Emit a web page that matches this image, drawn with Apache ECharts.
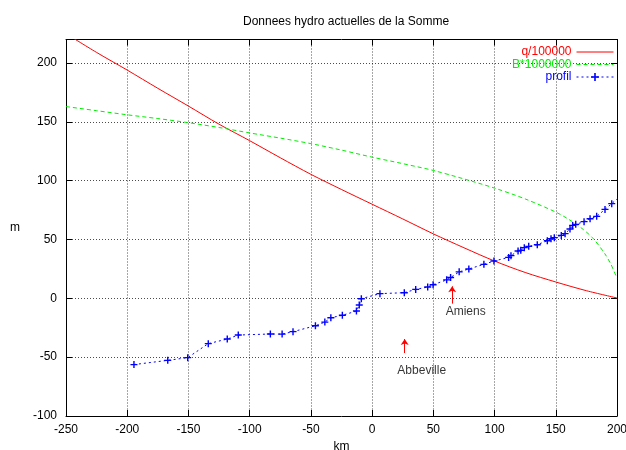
<!DOCTYPE html>
<html>
<head>
<meta charset="utf-8">
<script src="https://cdn.jsdelivr.net/npm/echarts@6/dist/echarts.min.js"></script>
<style>html,body{margin:0;padding:0;background:#fff}#c{width:626px;height:450px}</style>
</head>
<body>
<div id="c"></div>
<script>
var titleText = 'Donnees hydro actuelles de la Somme';
var xTicks = [-250, 200, 50];
var yTicks = [-100, 220, 50];

var qX = [-250, -225, -200, -175, -150, -125, -100, -75, -50, -25, 0, 25, 50, 75, 100, 125, 150, 175, 200];
var qY = [225, 209, 194, 178.5, 163.4, 148, 134, 119.5, 105.4, 92.5, 80, 67.5, 54.8, 43, 31.7, 22, 13.9, 6.5, 0.3];

var bX = [-250, -225, -200, -175, -150, -125, -100, -75, -50, -25, 0, 25, 50, 75, 100, 125, 150, 160, 170, 180, 190, 195, 200];
var bY = [163, 159.5, 156, 152.8, 149.3, 145.2, 140.6, 136.2, 131.5, 126, 120, 114.5, 108.7, 101.5, 93.7, 84.5, 73.3, 67.5, 60.5, 51.5, 38, 29, 17];

var pX = [-194.5, -166.9, -150.6, -133.8, -118.3, -109.3, -83.1, -73.5, -64.6, -46.3, -38.6, -33.7, -24.3, -12.8, -10.5, -8.8, 6.4, 26.3, 35.6, 45.4, 49.8, 60.9, 64.1, 71.1, 79.0, 91.3, 99.5, 111.5, 113.4, 119.2, 121.4, 124.3, 127.9, 134.9, 143.1, 146.1, 148.8, 154.5, 157.6, 161.6, 163.8, 166.3, 173.1, 178.0, 183.4, 190.2, 195.7, 200.3];
var pY = [-56.3, -52.7, -50.4, -38.5, -34.6, -31.2, -30.3, -30.4, -28.3, -23.3, -20.2, -16.5, -14.4, -10.8, -5.7, -0.3, 4.0, 4.8, 7.6, 9.6, 11.6, 15.7, 17.7, 22.5, 25.0, 28.9, 31.7, 34.8, 36.3, 40.2, 40.8, 43.1, 44.2, 45.6, 49.0, 50.7, 51.6, 53.5, 55.0, 58.9, 62.0, 62.9, 65.2, 67.7, 69.7, 75.6, 80.5, 84.7];

var towns = ['Amiens', 'Abbeville'];
var townArrowX = [65.4, 26.6];
var townArrowY0 = [-4.5, -46.5];
var townArrowY1 = [10.2, -34.6];
var townLabelX = [76.4, 40.5];
var townLabelY = [-11, -61.2];

var seriesNames = ['q/100000', 'B*1000000', 'profil'];

function zip(a, b) { return a.map(function (v, i) { return [v, b[i]]; }); }

var FONT = 'Liberation Sans, Arial, sans-serif';
var plus = 'path://M4,0H6V4H10V6H6V10H4V6H0V4H4Z';
var GREEN = '#00ee00';

var chart = echarts.init(document.getElementById('c'), null, {renderer: 'canvas'});
var axisCommon = {
  type: 'value',
  axisLine: {show: true, onZero: false, lineStyle: {color: '#000', width: 1}},
  axisTick: {show: true, inside: true, length: 6, lineStyle: {color: '#000'}},
  splitLine: {show: false}
};
chart.setOption({
  animation: false,
  backgroundColor: '#fff',
  title: {
    text: titleText, left: 238, top: 11,
    textStyle: {fontFamily: FONT, fontSize: 12, fontWeight: 'normal', color: '#000'}
  },
  legend: {
    orient: 'vertical', right: 7, top: 41, align: 'right',
    itemWidth: 37, itemHeight: 10, itemGap: 0.5,
    textStyle: {fontFamily: FONT, fontSize: 12},
    data: [
      {name: seriesNames[0], textStyle: {color: '#ff0000'}, itemStyle: {opacity: 0}, lineStyle: {width: 1}},
      {name: seriesNames[1], textStyle: {color: GREEN}, itemStyle: {opacity: 0}, lineStyle: {width: 1}},
      {name: seriesNames[2], textStyle: {color: '#0000ff'}, lineStyle: {width: 1}}
    ]
  },
  grid: {left: 66, right: 9, top: 39.5, bottom: 34, containLabel: false, outerBoundsMode: 'none'},
  xAxis: [
    Object.assign({}, axisCommon, {
      min: xTicks[0], max: xTicks[1], interval: xTicks[2],
      name: 'km', nameLocation: 'middle', nameGap: 25,
      nameTextStyle: {fontFamily: FONT, fontSize: 12, color: '#000'},
      axisLabel: {margin: 8, fontFamily: FONT, fontSize: 12, color: '#000'},
      splitLine: {show: true, lineStyle: {color: '#000', type: [1, 2], width: 1, opacity: 0.7}}
    }),
    Object.assign({}, axisCommon, {
      position: 'top', min: xTicks[0], max: xTicks[1], interval: xTicks[2],
      axisLabel: {show: false}
    })
  ],
  yAxis: [
    Object.assign({}, axisCommon, {
      min: yTicks[0], max: yTicks[1], interval: yTicks[2],
      name: 'm', nameLocation: 'middle', nameGap: 46, nameRotate: 0,
      nameTextStyle: {fontFamily: FONT, fontSize: 12, color: '#000'},
      axisLabel: {margin: 9, fontFamily: FONT, fontSize: 12, color: '#000', showMaxLabel: false},
      splitLine: {show: true, lineStyle: {color: '#000', type: [1, 2], width: 1, opacity: 0.7}}
    }),
    Object.assign({}, axisCommon, {
      position: 'right', min: yTicks[0], max: yTicks[1], interval: yTicks[2],
      axisLabel: {show: false}
    })
  ],
  series: [
    {
      name: seriesNames[0], type: 'line', data: zip(qX, qY), smooth: 0.3,
      symbol: 'none', clip: true, color: '#ff0000',
      lineStyle: {color: '#ff0000', width: 1}
    },
    {
      name: seriesNames[1], type: 'line', data: zip(bX, bY), smooth: 0.3,
      symbol: 'none', clip: true, color: GREEN,
      lineStyle: {color: GREEN, width: 1, type: [4, 3]}
    },
    {
      name: seriesNames[2], type: 'line', data: zip(pX, pY),
      symbol: plus, symbolSize: 7, showSymbol: true, clip: true, color: '#0000ff',
      itemStyle: {color: '#0000ff'},
      lineStyle: {color: '#0000ff', width: 1, type: [2, 3]}
    },
    {
      name: 'annot', type: 'line', data: [], silent: true,
      markLine: {
        silent: true, symbol: ['none', 'arrow'], symbolSize: 6,
        label: {show: false},
        lineStyle: {color: '#ff0000', width: 1, type: 'solid'},
        data: towns.map(function (t, i) {
          return [{coord: [townArrowX[i], townArrowY0[i]]}, {coord: [townArrowX[i], townArrowY1[i]]}];
        })
      }
    },
    {
      name: 'towns', type: 'scatter', silent: true, symbolSize: 0,
      data: towns.map(function (t, i) { return [townLabelX[i], townLabelY[i], t]; }),
      label: {
        show: true, position: 'inside', color: '#000', fontFamily: FONT, fontSize: 12,
        formatter: function (p) { return p.data[2]; }
      }
    }
  ]
});
</script>
</body>
</html>
